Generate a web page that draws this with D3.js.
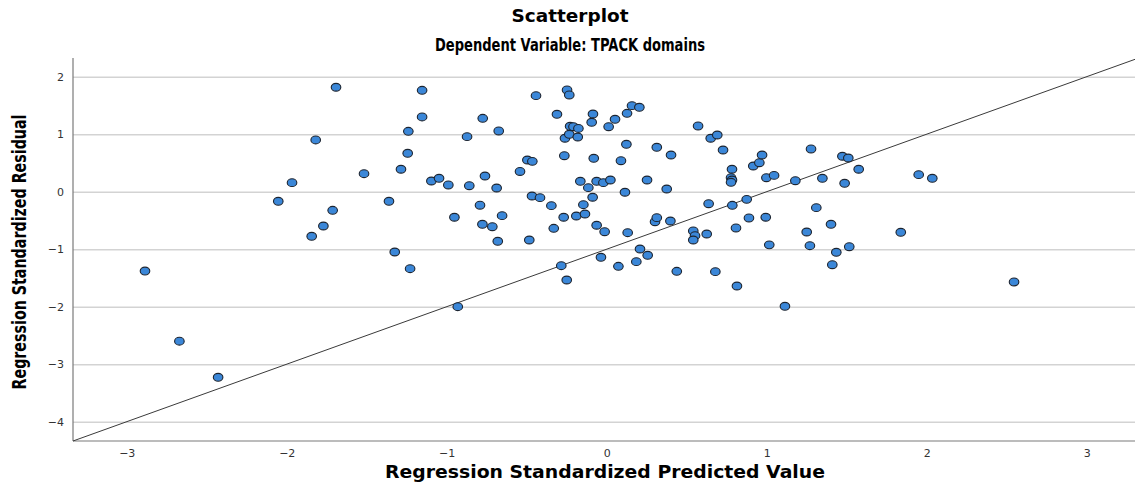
<!DOCTYPE html>
<html>
  <head>
    <meta charset="utf-8">
    <script src="https://d3js.org/d3.v7.min.js"></script>
    <style>
      body { margin: 0; background: #fff; }
      svg { display: block; }
    </style>
  </head>
  <body>
    <svg width="1135" height="493"></svg>
    <script>
      // standardized predicted value, standardized residual
      var predicted = [
        -2.886, -2.671, -2.429, -2.053, -1.967, -1.844, -1.819, -1.771, -1.713, -1.692,
        -1.517, -1.361, -1.325, -1.286, -1.244, -1.24, -1.229, -1.154, -1.154, -1.096,
        -1.048, -0.99, -0.952, -0.931, -0.873, -0.859, -0.792, -0.777, -0.775, -0.761,
        -0.715, -0.688, -0.681, -0.675, -0.654, -0.542, -0.496, -0.465, -0.484, -0.467,
        -0.442, -0.417, -0.346, -0.331, -0.311, -0.284, -0.269, -0.265, -0.261, -0.25,
        -0.248, -0.234, -0.234, -0.229, -0.208, -0.19, -0.181, -0.177, -0.165, -0.146,
        -0.136, -0.115, -0.094, -0.088, -0.086, -0.081, -0.063, -0.063, -0.036, -0.021,
        -0.013, 0.012, 0.023, 0.052, 0.073, 0.089, 0.114, 0.123, 0.127, 0.131,
        0.158, 0.185, 0.204, 0.208, 0.252, 0.256, 0.302, 0.313, 0.313, 0.375,
        0.398, 0.402, 0.438, 0.541, 0.552, 0.541, 0.571, 0.625, 0.637, 0.65,
        0.679, 0.691, 0.727, 0.777, 0.783, 0.777, 0.783, 0.785, 0.808, 0.814,
        0.875, 0.889, 0.916, 0.954, 0.971, 0.994, 0.998, 1.016, 1.046, 1.114,
        1.179, 1.25, 1.27, 1.277, 1.31, 1.348, 1.402, 1.41, 1.435, 1.473,
        1.487, 1.51, 1.516, 1.575, 1.838, 1.95, 2.035, 2.546
      ];
      var residual = [
        -1.38, -2.60, -3.228, -0.167, 0.157, -0.776, 0.90, -0.597, -0.324, 1.816,
        0.313, -0.167, -1.049, 0.39, 0.668, 1.05, -1.339, 1.763, 1.30, 0.186,
        0.233, 0.117, -0.445, -2.0, 0.957, 0.104, -0.235, -0.567, 1.276, 0.273,
        -0.609, 0.064, -0.863, 1.056, -0.417, 0.352, 0.551, 0.528, -0.84, -0.075,
        1.670, -0.104, -0.243, -0.637, 1.346, -1.287, -0.445, 0.626, 0.929, -1.536,
        1.769, 1.682, 0.998, 1.137, 1.13, -0.423, 0.951, 1.10, 0.181, -0.226,
        -0.388, 0.07, 1.207, -0.097, 1.351, 0.581, 0.181, -0.584, -1.141, 0.157,
        -0.696, 1.13, 0.203, 1.259, -1.298, 0.539, -0.01, 0.824, 1.363, -0.713,
        1.496, -1.217, 1.468, -0.997, 0.203, -1.106, -0.522, -0.452, 0.772, 0.047,
        -0.51, 0.638, -1.385, -0.683, -0.765, -0.84, 1.143, -0.736, -0.209, 0.929,
        -1.391, 0.986, 0.725, 0.243, 0.203, 0.163, 0.39, -0.237, -0.631, -1.64,
        -0.133, -0.457, 0.447, 0.504, 0.638, -0.445, 0.243, -0.925, 0.283, -1.993,
        0.191, -0.701, -0.939, 0.743, -0.278, 0.233, -0.567, -1.27, -1.054, 0.616,
        0.146, 0.586, -0.957, 0.39, -0.706, 0.296, 0.233, -1.57
      ];
      var xTicks = [-3, -2, -1, 0, 1, 2, 3];
      var yTicks = [-4, -3, -2, -1, 0, 1, 2];
      var titleLines = ["Scatterplot", "Dependent Variable: TPACK domains"];
      var xLabel = "Regression Standardized Predicted Value";
      var yLabel = "Regression Standardized Residual";

      var svg = d3.select("svg");
      var mLeft = 73, mRight = 1135, mTop = 58, mBottom = 441;

      var x = d3.scaleLinear().domain([-3.336, 3.302]).range([mLeft, mRight]);
      var y = d3.scaleLinear().domain([-4.336, 2.325]).range([mBottom, mTop]);
      var fmt = d3.format("d");

      // horizontal grid + y tick labels
      var yAxis = svg.append("g")
        .attr("transform", "translate(" + mLeft + ",0)")
        .call(d3.axisLeft(y).tickValues(yTicks).tickFormat(fmt)
          .tickSize(-(mRight - mLeft)).tickPadding(9));
      yAxis.select(".domain").remove();
      yAxis.selectAll(".tick line").attr("stroke", "#d3d3d3").attr("stroke-width", 1.6);
      yAxis.selectAll(".tick text")
        .attr("fill", "#333").style("font", "11px 'DejaVu Sans', sans-serif");

      var xAxis = svg.append("g")
        .attr("transform", "translate(0," + mBottom + ")")
        .call(d3.axisBottom(x).tickValues(xTicks).tickFormat(fmt).tickSize(0).tickPadding(8));
      xAxis.select(".domain").remove();
      xAxis.selectAll(".tick text")
        .attr("fill", "#333").style("font", "11px 'DejaVu Sans', sans-serif");

      // axis lines
      svg.append("line")
        .attr("x1", mLeft).attr("x2", mLeft).attr("y1", mTop).attr("y2", mBottom)
        .attr("stroke", "#7a7a7a").attr("stroke-width", 1.2);
      svg.append("line")
        .attr("x1", mLeft).attr("x2", mRight).attr("y1", mBottom).attr("y2", mBottom)
        .attr("stroke", "#7a7a7a").attr("stroke-width", 1.2);

      // reference line
      var xd = x.domain();
      svg.append("line")
        .attr("x1", x(xd[0])).attr("y1", y(xd[0] - 1))
        .attr("x2", x(xd[1])).attr("y2", y(xd[1] - 1))
        .attr("stroke", "#3a3a3a").attr("stroke-width", 1);

      // points
      svg.append("g").selectAll("ellipse")
        .data(d3.range(predicted.length))
        .enter().append("ellipse")
        .attr("cx", function(i) { return x(predicted[i]); })
        .attr("cy", function(i) { return y(residual[i]); })
        .attr("rx", 4.8)
        .attr("ry", 3.9)
        .attr("fill", "#3b87d8")
        .attr("stroke", "#1c2430")
        .attr("stroke-width", 1.1);

      // titles
      svg.append("text")
        .attr("x", 570).attr("y", 22)
        .attr("text-anchor", "middle")
        .attr("textLength", 117).attr("lengthAdjust", "spacingAndGlyphs")
        .style("font", "bold 17px 'DejaVu Sans', sans-serif")
        .text(titleLines[0]);
      svg.append("text")
        .attr("x", 570).attr("y", 51)
        .attr("text-anchor", "middle")
        .attr("textLength", 270).attr("lengthAdjust", "spacingAndGlyphs")
        .style("font", "bold 17px 'DejaVu Sans', sans-serif")
        .text(titleLines[1]);

      svg.append("text")
        .attr("x", 605).attr("y", 478)
        .attr("text-anchor", "middle")
        .attr("textLength", 440).attr("lengthAdjust", "spacingAndGlyphs")
        .style("font", "bold 17px 'DejaVu Sans', sans-serif")
        .text(xLabel);

      svg.append("text")
        .attr("transform", "translate(26,252) rotate(-90)")
        .attr("text-anchor", "middle")
        .attr("textLength", 275).attr("lengthAdjust", "spacingAndGlyphs")
        .style("font", "bold 20px 'DejaVu Sans Condensed', 'DejaVu Sans', sans-serif")
        .style("font-stretch", "condensed")
        .text(yLabel);
    </script>
  </body>
</html>
